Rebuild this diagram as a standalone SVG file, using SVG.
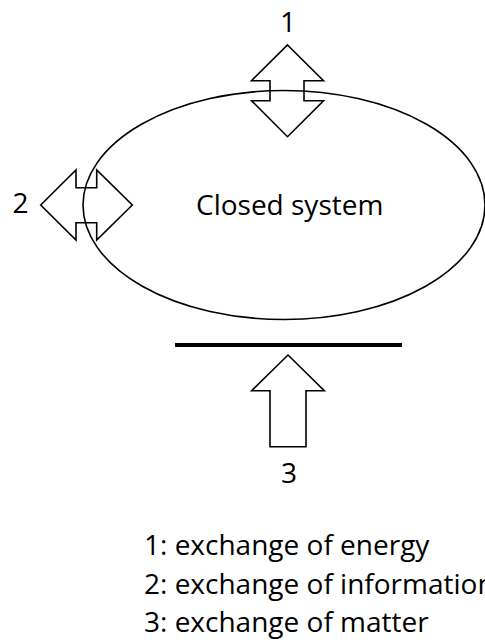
<svg xmlns="http://www.w3.org/2000/svg" width="485" height="643" viewBox="0 0 485 643">
  <style>
    .outline { fill: none; stroke: #000; stroke-width: 1.6; stroke-linejoin: miter; }
    .label { font-family: "Open Sans", "Noto Sans", sans-serif; font-size: 28px; fill: #000; }
    .mid { text-anchor: middle; }
  </style>
  <rect width="485" height="643" fill="#fff"/>

  <!-- the system boundary -->
  <g id="system">
    <ellipse class="outline" cx="284" cy="205" rx="201" ry="114.5"/>
    <text class="label" x="196" y="215">Closed system</text>
  </g>

  <!-- barrier under the system -->
  <g id="barrier">
    <line x1="175" y1="345" x2="402" y2="345" stroke="#000" stroke-width="4"/>
  </g>

  <g id="connectors">
    <!-- 1: energy, double arrow through the top -->
    <g id="arrow-energy">
      <polygon class="outline" points="287.5,45 323.5,80.7 304,80.7 304,100.7 323.5,100.7 287.5,136.7 251.5,100.7 270,100.7 270,80.7 251.5,80.7"/>
      <text class="label mid" x="288" y="31.5">1</text>
    </g>
    <!-- 2: information, double arrow through the left side -->
    <g id="arrow-information">
      <polygon class="outline" points="40.7,205 76,170 76,187.7 96.7,187.7 96.7,170 132.3,205 96.7,240 96.7,222.7 76,222.7 76,240"/>
      <text class="label mid" x="20.5" y="213">2</text>
    </g>
    <!-- 3: matter, blocked by the barrier -->
    <g id="arrow-matter">
      <polygon class="outline" points="288,355 324.3,390.7 306,390.7 306,446.7 270,446.7 270,390.7 251.7,390.7"/>
      <text class="label mid" x="289" y="483">3</text>
    </g>
  </g>

  <!-- key -->
  <g id="legend">
    <text class="label" x="144" y="555">1: exchange of energy</text>
    <text class="label" x="144" y="593.5">2: exchange of information</text>
    <text class="label" x="144" y="632">3: exchange of matter</text>
  </g>
</svg>
